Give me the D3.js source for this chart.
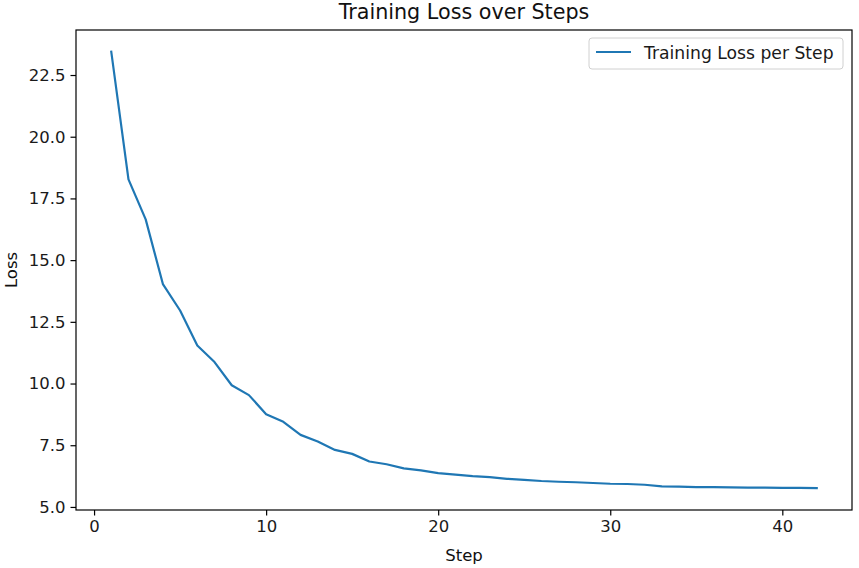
<!DOCTYPE html>
<html>
<head>
<meta charset="utf-8">
<script src="https://cdn.jsdelivr.net/npm/d3@7"></script>
<style>
  body { margin: 0; background: #fff; }
  svg { display: block; font-family: "DejaVu Sans", sans-serif; }
</style>
</head>
<body>
<div id="chart"></div>
<script>
const steps = d3.range(1, 43);
const losses = [
  23.44, 18.27, 16.65, 14.03, 12.96, 11.54, 10.87, 9.93, 9.53, 8.76,
  8.45, 7.92, 7.65, 7.31, 7.15, 6.84, 6.73, 6.56, 6.48, 6.37,
  6.31, 6.25, 6.21, 6.14, 6.10, 6.05, 6.02, 6.00, 5.97, 5.94,
  5.93, 5.90, 5.83, 5.82, 5.80, 5.80, 5.79, 5.78, 5.78, 5.77,
  5.77, 5.76
];
const xTicks = [0, 10, 20, 30, 40];
const yTicks = [5.0, 7.5, 10.0, 12.5, 15.0, 17.5, 20.0, 22.5];

const width = 859, height = 568;
const plotLeft = 76, plotRight = 852, plotTop = 30, plotBottom = 510;

const svg = d3.select("#chart").append("svg")
    .attr("width", width)
    .attr("height", height);

// matplotlib-style 5% margins
const xMin = d3.min(steps), xMax = d3.max(steps);
const xPad = (xMax - xMin) * 0.05;
const x = d3.scaleLinear()
    .domain([xMin - xPad, xMax + xPad])
    .range([plotLeft, plotRight]);

const yMin = d3.min(losses), yMax = d3.max(losses);
const yPad = (yMax - yMin) * 0.05;
const y = d3.scaleLinear()
    .domain([yMin - yPad, yMax + yPad])
    .range([plotBottom, plotTop]);

const data = steps.map((s, i) => ({ step: s, loss: losses[i] }));

svg.append("path")
    .datum(data)
    .attr("fill", "none")
    .attr("stroke", "#1f77b4")
    .attr("stroke-width", 2.2)
    .attr("stroke-linejoin", "round")
    .attr("stroke-linecap", "square")
    .attr("d", d3.line().x(d => x(d.step)).y(d => y(d.loss)));

// axes
const xAxis = svg.append("g")
    .attr("transform", `translate(0, ${plotBottom})`)
    .call(d3.axisBottom(x).tickValues(xTicks).tickSize(5.5).tickPadding(5).tickSizeOuter(0));
const yAxis = svg.append("g")
    .attr("transform", `translate(${plotLeft}, 0)`)
    .call(d3.axisLeft(y).tickValues(yTicks).tickFormat(d3.format(".1f")).tickSize(5.5).tickPadding(5).tickSizeOuter(0));

[xAxis, yAxis].forEach(g => {
    g.select(".domain").remove();
    g.selectAll(".tick line").attr("stroke", "#000").attr("stroke-width", 1.2);
    g.selectAll(".tick text")
        .attr("fill", "#1a1a1a")
        .style("font-family", "'DejaVu Sans', sans-serif")
        .style("font-size", "16.5px");
});

// frame
svg.append("rect")
    .attr("x", plotLeft)
    .attr("y", plotTop)
    .attr("width", plotRight - plotLeft)
    .attr("height", plotBottom - plotTop)
    .attr("fill", "none")
    .attr("stroke", "#000")
    .attr("stroke-width", 1.2);

svg.append("text")
    .attr("x", (plotLeft + plotRight) / 2)
    .attr("y", 19)
    .attr("text-anchor", "middle")
    .style("font-size", "20.7px")
    .attr("fill", "#111")
    .text("Training Loss over Steps");

svg.append("text")
    .attr("x", (plotLeft + plotRight) / 2)
    .attr("y", 561)
    .attr("text-anchor", "middle")
    .style("font-size", "16.5px")
    .attr("fill", "#111")
    .text("Step");

svg.append("text")
    .attr("transform", `translate(17, ${(plotTop + plotBottom) / 2}) rotate(-90)`)
    .attr("text-anchor", "middle")
    .style("font-size", "16.5px")
    .attr("fill", "#111")
    .text("Loss");

// legend
const legend = svg.append("g").attr("transform", "translate(589, 38)");
legend.append("rect")
    .attr("width", 254)
    .attr("height", 31)
    .attr("rx", 3)
    .attr("fill", "#fff")
    .attr("fill-opacity", 0.8)
    .attr("stroke", "#d0d0d0");
legend.append("line")
    .attr("x1", 7).attr("x2", 42)
    .attr("y1", 14).attr("y2", 14)
    .attr("stroke", "#1f77b4")
    .attr("stroke-width", 2.2);
legend.append("text")
    .attr("x", 55)
    .attr("y", 20.5)
    .style("font-size", "17.2px")
    .attr("fill", "#1a1a1a")
    .text("Training Loss per Step");
</script>
</body>
</html>
